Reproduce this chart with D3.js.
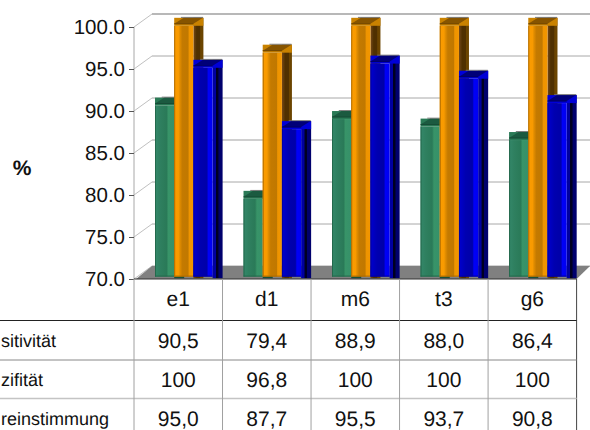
<!DOCTYPE html>
<html><head><meta charset="utf-8">
<script src="https://cdn.jsdelivr.net/npm/d3@7/dist/d3.min.js"></script>
<style>html,body{margin:0;padding:0;background:#fff}svg{display:block}text{font-family:"Liberation Sans",Arial,sans-serif;fill:#111;text-rendering:geometricPrecision}</style>
</head><body><div id="c"></div>
<script>
const groups = ["e1","d1","m6","t3","g6"];
const sensitivity = [90.5,79.4,88.9,88.0,86.4];
const specificity = [100,96.8,100,100,100];
const agreement = [95.0,87.7,95.5,93.7,90.8];
const rowLabels = ["sitivität","zifität","reinstimmung"];
const rowTexts = [
  ["90,5","79,4","88,9","88,0","86,4"],
  ["100","96,8","100","100","100"],
  ["95,0","87,7","95,5","93,7","90,8"]
];
const ticks = [70,75,80,85,90,95,100];
const seriesStyles = [
  {front:[[0,"#34886a"],[.25,"#2f8060"],[.6,"#2a7a58"],[.7,"#389468"],[1,"#36906a"]],
   side:[[0,"#17503a"],[1,"#17503a"]],base:"#2a7a56",cap:"#1b5a40",edge:"#24694c"},
  {front:[[0,"#fb9c00"],[.22,"#f89a00"],[.3,"#e08c00"],[.42,"#c47a00"],[.72,"#c07800"],[.78,"#ee9400"],[1,"#f29600"]],
   side:[[0,"#74491a"],[.33,"#4f3000"],[.66,"#4f3000"],[.72,"#6c4500"],[1,"#6a4400"]],base:"#c98200",cap:"#865400",edge:"#b06c00"},
  {front:[[0,"#0000d0"],[.35,"#0000b0"],[.7,"#0000a8"],[.78,"#0000f8"],[1,"#0000f0"]],
   side:[[0,"#0000a0"],[.3,"#0000a0"],[.38,"#000020"],[.55,"#000020"],[.62,"#00006c"],[1,"#00006c"]],base:"#0000d8",cap:"#000078",edge:"#0000a0"}
];

const W=590,H=430;
const svg=d3.select("#c").append("svg").attr("width",W).attr("height",H);
const y=d3.scaleLinear().domain([70,100]).range([279,27]);
const x=d3.scaleBand().domain(groups).range([134,576.6]);
const wallDX=18,wallDY=-13,barW=19.2,capDX=9.6,capH=8,capLip=2,barLift=-1.2,baseY=276.6,groupPad=21;

// horizontally banded gradients give the bars their rounded sheen
const defs=svg.append("defs");
const addGradient=(id,stops)=>{
  const g=defs.append("linearGradient").attr("id",id).attr("x1",0).attr("x2",1).attr("y1",0).attr("y2",0);
  stops.forEach(([o,c])=>g.append("stop").attr("offset",o).attr("stop-color",c));
};
seriesStyles.forEach((s,i)=>{addGradient("front"+i,s.front);addGradient("side"+i,s.side);});

// back wall: slanted ticks and gridlines
const wall=svg.append("g");
ticks.forEach(t=>{
  const yy=y(t);
  wall.append("line").attr("x1",134).attr("y1",yy).attr("x2",134+wallDX).attr("y2",yy+wallDY).attr("stroke","#c0c0c0");
  wall.append("line").attr("x1",134+wallDX).attr("y1",yy+wallDY).attr("x2",590).attr("y2",yy+wallDY)
    .attr("stroke",t===100?"#b8b8b8":t===85?"#d0d0d0":"#a8a8a8").attr("stroke-width",t===100||t===85?1.8:1);
});

// floor of the plot
svg.append("path").attr("fill","#808080").attr("d",d3.line()([[136,279],[152,266],[590,266],[576.6,279]]));

// value axis drawn on the front plane
const axis=d3.axisLeft(y).tickValues(ticks).tickFormat(d3.format(".1f")).tickSize(5).tickPadding(4);
const ag=svg.append("g").attr("transform","translate(134,0)").call(axis);
ag.select(".domain").attr("stroke","#a8a8a8").attr("d","M0,27V279");
ag.selectAll("line").attr("stroke","#555");
ag.selectAll("text").style("font-size","20.5px").attr("fill","#111");

svg.append("text").attr("x",22).attr("y",175).attr("text-anchor","middle").style("font-size","21px").style("font-weight","bold").text("%");

// bars: each series overlaps the side face of the one before it
const allSeries=[sensitivity,specificity,agreement];
groups.forEach((g,gi)=>{
  const x0=x(g)+groupPad;
  allSeries.forEach((vals,si)=>{
    const st=seriesStyles[si];
    const bx=x0+si*barW,top=y(vals[gi])+barLift;
    const bar=svg.append("g");
    // side face, running a little past the front face at the foot
    bar.append("rect").attr("x",bx+barW).attr("y",top-capH).attr("width",capDX+.4).attr("height",baseY-top+capH+1.6).attr("fill",`url(#side${si})`);
    // front face
    bar.append("rect").attr("x",bx).attr("y",top).attr("width",barW).attr("height",baseY-top).attr("fill",`url(#front${si})`);
    bar.append("line").attr("x1",bx+.5).attr("x2",bx+.5).attr("y1",top).attr("y2",baseY).attr("stroke",st.edge);
    bar.append("line").attr("x1",bx).attr("x2",bx+barW).attr("y1",baseY-.5).attr("y2",baseY-.5).attr("stroke",st.edge);
    // cap: a box with a darker slanted top
    bar.append("rect").attr("x",bx).attr("y",top-capH).attr("width",barW+capDX+.4).attr("height",capH).attr("fill",st.base);
    bar.append("path").attr("fill",st.cap).attr("d",d3.line()([
      [bx,top-capLip],[bx+barW,top-capLip],[bx+barW+capDX,top-capH],[bx+capDX,top-capH]]));
    bar.append("line").attr("x1",bx).attr("x2",bx+barW).attr("y1",top-capLip).attr("y2",top-capLip).attr("stroke",d3.color(st.cap).darker(.6));
    bar.append("rect").attr("x",bx+capDX*.7).attr("y",top-capH-.9).attr("width",barW+capDX*.3).attr("height",.9).attr("fill","#6e6e6e");
  });
});

// data table under the plot
const rowY=[320.5,360,398.5];
const tbl=svg.append("g");
tbl.append("line").attr("x1",134).attr("x2",576.6).attr("y1",279).attr("y2",279).attr("stroke","#333");
tbl.append("line").attr("x1",576.6).attr("x2",576.6).attr("y1",279).attr("y2",430).attr("stroke","#444");
tbl.append("line").attr("x1",0).attr("x2",576.6).attr("y1",rowY[0]).attr("y2",rowY[0]).attr("stroke","#222");
tbl.append("line").attr("x1",0).attr("x2",576.6).attr("y1",rowY[1]).attr("y2",rowY[1]).attr("stroke","#888");
tbl.append("line").attr("x1",0).attr("x2",576.6).attr("y1",rowY[2]).attr("y2",rowY[2]).attr("stroke","#c4c4c4").attr("stroke-width",1.5);
x.domain().forEach(g=>{
  tbl.append("line").attr("x1",x(g)).attr("x2",x(g)).attr("y1",279).attr("y2",430).attr("stroke","#a0a0a0");
  tbl.append("text").attr("x",x(g)+x.bandwidth()/2).attr("y",306).attr("text-anchor","middle").style("font-size","21px").text(g);
});
const rowBase=[348,387,426];
rowLabels.forEach((l,r)=>{
  tbl.append("text").attr("x",1).attr("y",rowBase[r]-1).style("font-size","18px").text(l);
  groups.forEach((g,i)=>tbl.append("text").attr("x",x(g)+x.bandwidth()/2).attr("y",rowBase[r]).attr("text-anchor","middle").style("font-size","21px").text(rowTexts[r][i]));
});
</script></body></html>
